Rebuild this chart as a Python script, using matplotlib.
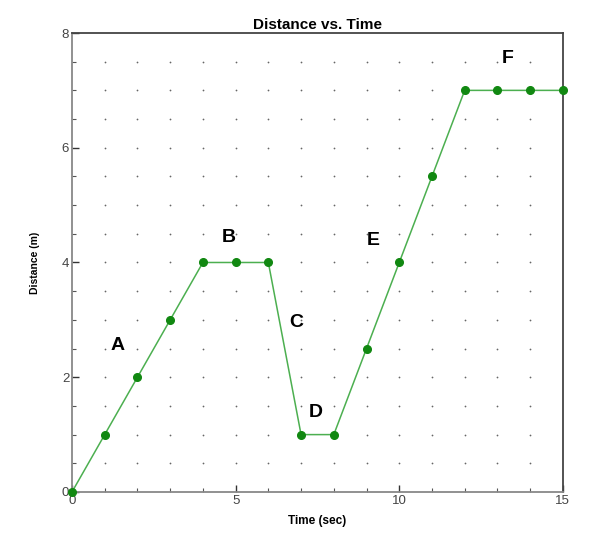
"""Distance vs. time chart with labelled motion segments."""

import matplotlib

matplotlib.use("Agg")
import matplotlib.pyplot as plt
import numpy as np
from matplotlib.ticker import MultipleLocator

time_sec = [0, 1, 2, 3, 4, 5, 6, 7, 8, 9, 10, 11, 12, 13, 14, 15]
distance_m = [0, 1, 2, 3, 4, 4, 4, 1, 1, 2.5, 4, 5.5, 7, 7, 7, 7]

segment_names = ["A", "B", "C", "D", "E", "F"]
segment_x = [1.4, 4.8, 6.85, 7.45, 9.2, 13.3]
segment_y = [2.55, 4.43, 2.96, 1.38, 4.39, 7.56]

plt.rcParams["font.family"] = ["Liberation Sans", "DejaVu Sans"]

fig = plt.figure(figsize=(5.95, 5.5), dpi=100)
ax = fig.add_axes([0.121, 0.1055, 0.825, 0.8345])

# dot grid at every 1 sec and every 0.5 m
gx, gy = np.meshgrid(np.arange(1, 15), np.arange(0.5, 8, 0.5))
ax.scatter(gx.ravel(), gy.ravel(), s=1.6, color="#666666", zorder=1, linewidths=0)

ax.plot(time_sec, distance_m, color="#4caf50", linewidth=1.1, zorder=2, clip_on=False)
ax.plot(time_sec, distance_m, linestyle="none", marker="o", markersize=5.5,
        color="#118811", zorder=3, clip_on=False)

for name, x, y in zip(segment_names, segment_x, segment_y):
    ax.text(x, y, name, fontsize=14, fontweight="bold", ha="center", va="center")

ax.set_xlim(0, 15)
ax.set_ylim(0, 8)
ax.xaxis.set_major_locator(MultipleLocator(5))
ax.xaxis.set_minor_locator(MultipleLocator(1))
ax.yaxis.set_major_locator(MultipleLocator(2))
ax.yaxis.set_minor_locator(MultipleLocator(0.5))
ax.tick_params(which="major", direction="in", length=5, width=1, color="#333333",
               labelsize=9.5, labelcolor="#444444", pad=2)
ax.tick_params(which="minor", direction="in", length=3, width=0.8, color="#555555")

for side in ["top", "right"]:
    ax.spines[side].set_color("#444444")
    ax.spines[side].set_linewidth(1.3)
for side in ["left", "bottom"]:
    ax.spines[side].set_color("#888888")
    ax.spines[side].set_linewidth(1.3)

ax.set_title("Distance vs. Time", fontsize=11, fontweight="bold", pad=3)
ax.set_xlabel("Time (sec)", fontsize=8.5, fontweight="bold", labelpad=6)
ax.set_ylabel("Distance (m)", fontsize=7.5, fontweight="bold", labelpad=16)

fig.savefig("out.png", dpi=100)
plt.close(fig)
